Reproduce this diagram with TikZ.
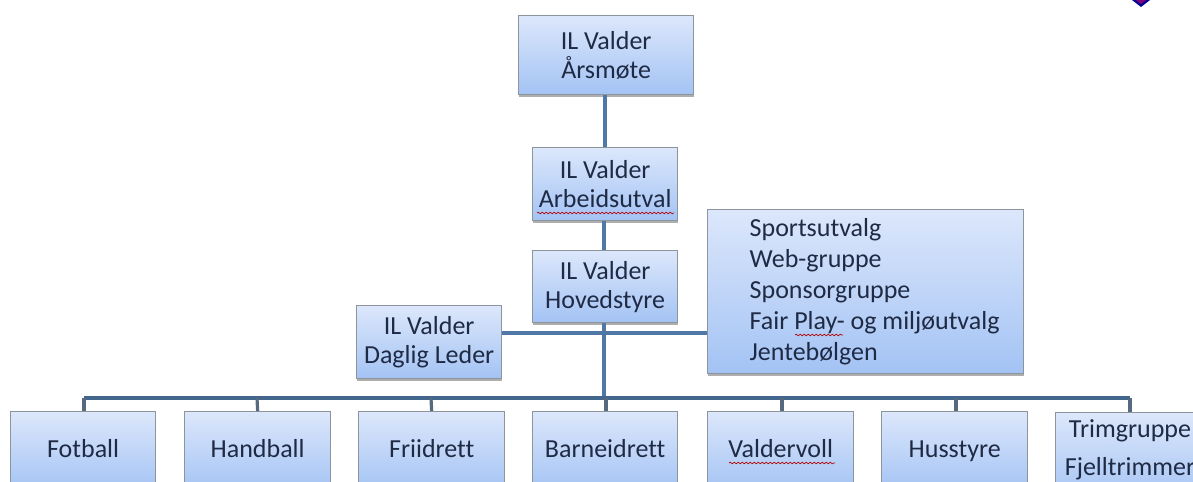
\documentclass[tikz,border=0pt]{standalone}
\usepackage{fontspec}
\setmainfont[Ligatures=NoCommon]{Carlito}
\usetikzlibrary{shadows,decorations.pathmorphing}
\definecolor{txt}{HTML}{1F2A44}
\definecolor{linec}{HTML}{4F78A6}
\definecolor{stubc}{HTML}{56697F}
\definecolor{edge}{HTML}{8C949C}
\definecolor{boxtop}{HTML}{DCE7FB}
\definecolor{boxbot}{HTML}{A3C3F4}
\newcommand{\orgfont}{\fontsize{19.5pt}{21.75pt}\selectfont}
\tikzset{
  orgbox/.style={draw=edge,line width=1pt,top color=boxtop,bottom color=boxbot,
    text=txt,align=center,font=\orgfont,inner sep=0pt,
    drop shadow={shadow xshift=0.5pt,shadow yshift=-2pt,opacity=.45,fill=black!70}},
  link/.style={draw=linec,line width=3.2pt},
  buslink/.style={draw=linec!85!black,line width=2.6pt},
  stub/.style={draw=stubc,line width=2.4pt},
  squiggle/.style={draw=red!70!black,line width=.5pt,decorate,decoration={snake,amplitude=.6pt,segment length=3pt}},
  plaintext/.style={text=txt,font=\orgfont,anchor=base,inner sep=0pt}
}
\newcommand{\bx}[6]{\node[orgbox,minimum width=#4*.75pt,minimum height=#5*.75pt,anchor=north west] (#1) at (#2,#3) {#6};}
\begin{document}
\begin{tikzpicture}[x=.75pt,y=-.75pt]
\useasboundingbox (0,0) rectangle (1193,482);
\clip (0,0) rectangle (1193,482);
\fill[white] (0,0) rectangle (1193,482);
\bx{aarsmote}{518}{15}{175}{79}{IL Valder\\Årsmøte}
\bx{arbeid}{532}{147}{145}{73}{IL Valder\\Arbeidsutval}
\bx{hoved}{532}{250}{145}{72}{IL Valder\\Hovedstyre}
\bx{daglig}{356}{305}{145}{73}{IL Valder\\Daglig Leder}
\node[orgbox,minimum width=316*.75pt,minimum height=164*.75pt,anchor=north west,text width=316*.75pt,align=flush left,font=\fontsize{19.5pt}{23.25pt}\selectfont] (utvalg) at (707,209)
  {\hspace*{31.5pt}Sportsutvalg\\\hspace*{31.5pt}Web-gruppe\\\hspace*{31.5pt}Sponsorgruppe\\\hspace*{31.5pt}Fair Play- og miljøutvalg\\\hspace*{31.5pt}Jentebølgen};
\bx{fotball}{10}{411}{145}{80}{\strut Fotball}
\bx{handball}{184}{411}{146}{80}{\strut Handball}
\bx{friidrett}{358}{411}{146}{80}{\strut Friidrett}
\bx{barne}{532}{411}{145}{80}{\strut Barneidrett}
\bx{valder}{707}{411}{146}{80}{\strut Valdervoll}
\bx{husstyre}{881}{411}{146}{80}{\strut Husstyre}
\bx{trim}{1055}{412}{150}{90}{}
\coordinate (hub) at (604,333);
\coordinate (bus) at (604,398);
\coordinate (busL) at (84,398);
\coordinate (busR) at (1130,398);
\draw[link] (aarsmote.south -| 605,0) -- (arbeid.north -| 605,0);
\draw[link] (arbeid.south -| hub) -- (hoved.north -| hub);
\draw[link] (hoved.south -| hub) -- (bus);
\draw[link] (hub -| daglig.east) -- (hub -| utvalg.west);
\draw[buslink] (busL) -- (busR);
\draw[stub] (busL) -- (fotball.north -| busL);
\draw[stub] (bus -| 257,0) -- (handball.north);
\draw[stub] (bus -| 431,0) -- (friidrett.north);
\draw[stub] (bus -| 606,0) -- (barne.north -| 606,0);
\draw[stub] (bus -| 782,0) -- (valder.north -| 782,0);
\draw[stub] (bus -| 956,0) -- (husstyre.north -| 956,0);
\draw[stub] (busR) -- (trim.north -| busR);
\node[plaintext] (trim1) at (1130,437) {Trimgruppe};
\node[plaintext] (trim2) at (1130,475) {Fjelltrimmer};
\draw[squiggle] (537,213) -- (674,213);
\draw[squiggle] (795,335) -- (843,335);
\draw[squiggle] (729,463) -- (835,463);
\fill[blue!60!black] (1132,0) -- (1141,7) -- (1150,0) -- cycle;
\fill[purple!70!blue] (1136,0) -- (1141,4) -- (1146,0) -- cycle;
\end{tikzpicture}
\end{document}
